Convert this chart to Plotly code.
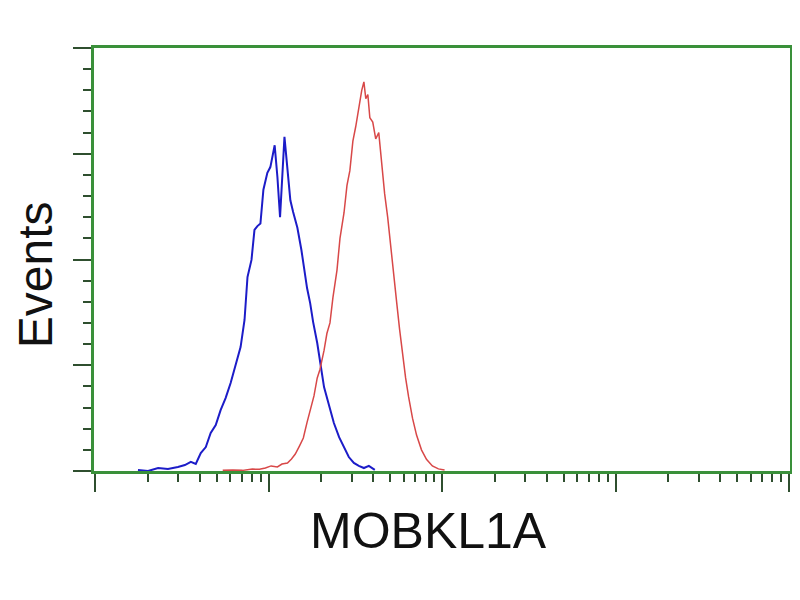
import plotly.graph_objects as go

# isotype control (blue) - fluorescence intensity vs events
control_x = [1.76, 2.01, 2.30, 2.62, 2.99, 3.28, 3.55, 3.79, 4.05, 4.33, 4.62, 4.94, 5.27,
             5.63, 6.02, 6.43, 6.87, 7.24, 7.53, 7.94, 8.26, 8.59, 8.94, 9.30, 9.80, 10.2,
             10.8, 11.2, 11.6, 12.3, 12.8, 13.3, 13.8, 14.6, 15.4, 16.0, 16.6, 17.3, 18.0,
             19.0, 20.0, 20.8, 22.2, 23.7, 25.4, 27.1, 28.9, 30.9, 33.0, 35.3, 37.7, 40.8]
control_y = [0.5, 0, 1.4, 0.9, 1.9, 2.8, 4.3, 3.3, 8.5, 11.3, 18, 21.7, 28.8,
             34.5, 41.6, 50, 58.6, 71.4, 91.7, 99.8, 114, 115.8, 117, 133, 141, 143.7,
             154, 139, 120, 158, 142, 128, 122.5, 115, 104.5, 95, 86.5, 79.4, 70.4,
             60.5, 48.7, 39.7, 31.2, 22.7, 16, 11.3, 6.6, 3.8, 2.4, 1.4, 2.4, 0.5]

# MOBKL1A antibody stained (red)
stained_x = [5.42, 6.18, 7.05, 8.04, 8.83, 9.55, 10.3, 11.2, 11.9, 12.8, 13.5, 14.2, 15.0,
             15.8, 16.6, 17.5, 18.2, 19.0, 19.7, 20.8, 21.6, 22.5, 23.4, 24.7, 25.7, 27.1,
             28.2, 29.3, 30.5, 31.7, 33.0, 34.3, 35.3, 36.2, 37.2, 38.2, 39.7, 41.3, 43.0,
             44.7, 46.5, 48.4, 50.3, 52.4, 54.5, 56.7, 59.0, 61.4, 63.9, 67.3, 71.0, 75.8,
             81.0, 87.6, 94.9, 103]
stained_y = [0.3, 0.5, 0.3, 0.9, 0.8, 1.4, 2.4, 1.9, 3.3, 3.8, 5.7, 8.0, 11.8,
             15.6, 23, 30.7, 35.5, 44, 48, 57, 65, 70, 82, 95, 110, 122,
             135, 142, 156, 163, 172, 180, 184, 176, 178, 167, 165, 157, 160,
             145, 131, 120, 106, 94, 80, 67, 55, 44, 35, 25, 17, 10,
             5.5, 2.4, 1.0, 0.5]

major_x = [1, 10, 100, 1000, 10000]
minor_x = [m * d for d in [1, 10, 100, 1000] for m in range(2, 10)]

axis_green = "#3a903a"
tick_dark = "#2f4f2f"

fig = go.Figure()
fig.add_trace(go.Scatter(x=control_x, y=control_y, mode="lines",
                         line=dict(color="#1c1cc8", width=2)))
fig.add_trace(go.Scatter(x=stained_x, y=stained_y, mode="lines",
                         line=dict(color="#d84848", width=1.5)))

# page body has an 8px margin, so the margins below are shifted by that
fig.update_layout(
    width=800, height=600,
    margin=dict(l=86, r=18, t=40, b=137, autoexpand=False),
    paper_bgcolor="white", plot_bgcolor="white",
    showlegend=False,
    font=dict(family="Liberation Sans, Arial, sans-serif", color="#111111"),
    xaxis=dict(
        type="log", range=[-0.008, 4.004], showgrid=False, zeroline=False,
        automargin=False,
        showline=True, linecolor=axis_green, linewidth=3, mirror=True,
        tickmode="array", tickvals=major_x, showticklabels=False,
        ticks="outside", ticklen=18, tickwidth=2, tickcolor=tick_dark,
        minor=dict(tickmode="array", tickvals=minor_x, ticks="outside",
                   ticklen=8, tickwidth=2, tickcolor=tick_dark),
    ),
    yaxis=dict(
        range=[0, 200], showgrid=False, zeroline=False,
        automargin=False,
        showline=True, linecolor=axis_green, linewidth=3, mirror=True,
        tickmode="array", tickvals=[0, 50, 100, 150, 200], showticklabels=False,
        ticks="outside", ticklen=18, tickwidth=2, tickcolor=tick_dark,
        minor=dict(tickmode="array", tickvals=[v for v in range(10, 200, 10) if v % 50],
                   ticks="outside", ticklen=8, tickwidth=2, tickcolor=tick_dark),
    ),
    annotations=[
        dict(text="MOBKL1A", xref="paper", yref="paper", x=0.481, y=-0.142,
             xanchor="center", yanchor="middle", showarrow=False, font=dict(size=50)),
        dict(text="Events", xref="paper", yref="paper", x=-0.085, y=0.465,
             xanchor="center", yanchor="middle", showarrow=False, textangle=-90,
             font=dict(size=48)),
    ],
)

fig.write_html("out.html")
